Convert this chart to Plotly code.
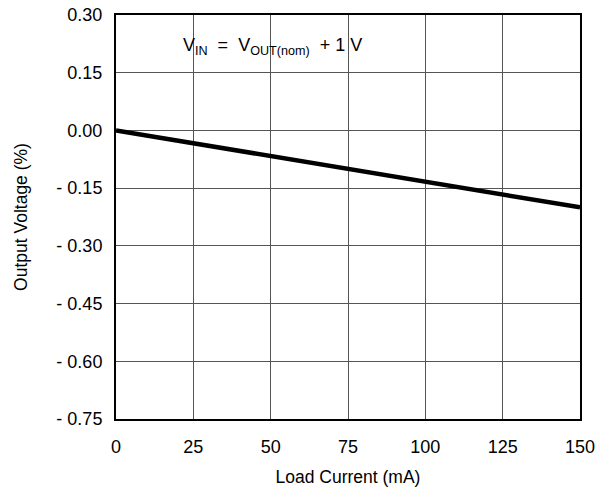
import plotly.graph_objects as go

load_current = [0, 150]
output_voltage = [0.0, -0.20]
x_ticks = [0, 25, 50, 75, 100, 125, 150]
y_ticks = [0.30, 0.15, 0.00, -0.15, -0.30, -0.45, -0.60, -0.75]
y_tick_labels = ["0.30", "0.15", "0.00", "- 0.15", "- 0.30", "- 0.45", "- 0.60", "- 0.75"]

font = "Liberation Sans, Arial, sans-serif"
NB = "\u00a0"

fig = go.Figure()
fig.add_trace(go.Scatter(x=load_current, y=output_voltage, mode="lines",
                         line=dict(color="black", width=4.5), showlegend=False))

fig.add_annotation(x=21, y=0.218, xref="x", yref="y", xanchor="left", yanchor="middle",
                   text=f"V<sub>IN</sub> {NB}={NB} V<sub>OUT(nom)</sub> {NB}+ 1 V", showarrow=False,
                   font=dict(family=font, size=18, color="black"))

fig.update_xaxes(range=[0, 150], tickvals=x_ticks, ticktext=[str(v) for v in x_ticks],
                 showgrid=True, gridcolor="#555555", gridwidth=1,
                 showline=True, linecolor="black", linewidth=2, mirror=True,
                 zeroline=False, ticks="", ticklabelstandoff=10, automargin=False,
                 title=dict(text="Load Current (mA)", font=dict(family=font, size=17.5, color="black"), standoff=15),
                 tickfont=dict(family=font, size=18, color="black"))
fig.update_yaxes(range=[-0.75, 0.30], tickvals=y_ticks, ticktext=y_tick_labels,
                 showgrid=True, gridcolor="#555555", gridwidth=1,
                 showline=True, linecolor="black", linewidth=2, mirror=True,
                 zeroline=False, ticks="", ticklabelstandoff=8, automargin=False,
                 title=dict(text="Output Voltage (%)", font=dict(family=font, size=17.5, color="black"), standoff=24),
                 tickfont=dict(family=font, size=18, color="black"))

fig.update_layout(width=597, height=491, margin=dict(l=116, r=17, t=15, b=72),
                  plot_bgcolor="white", paper_bgcolor="white",
                  font=dict(family=font, size=18, color="black"))

fig.write_html("out.html")
